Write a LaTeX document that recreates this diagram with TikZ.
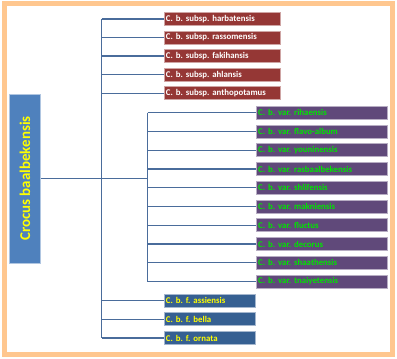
\documentclass[tikz,border=0pt]{standalone}
\usepackage{fontspec}
\setmainfont{Carlito}
\usetikzlibrary{positioning}

\definecolor{frameorange}{RGB}{255,199,143}
\definecolor{rootblue}{RGB}{79,129,189}
\definecolor{subred}{RGB}{149,55,53}
\definecolor{varpurple}{RGB}{96,73,122}
\definecolor{formblue}{RGB}{54,96,146}
\definecolor{linkblue}{RGB}{74,108,155}
\definecolor{vargreen}{RGB}{0,230,0}
\definecolor{formyellow}{RGB}{255,255,0}

\tikzset{
  taxon/.style={rectangle, anchor=west, minimum height=13pt, inner xsep=2pt, inner ysep=0pt,
    align=left, font=\bfseries\frenchspacing\fontsize{8.8}{9}\selectfont, line width=0.8pt},
  subsp/.style={taxon, fill=subred, draw=subred!45!white, text=white, text width=112.5pt},
  variety/.style={taxon, fill=varpurple, draw=varpurple!45!white, text=vargreen, text width=127pt},
  forma/.style={taxon, fill=formblue, draw=formblue!45!white, text=formyellow, text width=87.5pt},
  link/.style={draw=linkblue, line width=1.3pt}
}

\begin{document}
\begin{tikzpicture}[x=1pt,y=-1pt]
        \useasboundingbox (0,0) rectangle (397,359);
        \draw[frameorange, line width=5.3pt] (4.2,3.2) rectangle (392.2,354.3);
        % species
        \node[fill=rootblue, draw=rootblue!45!white, line width=0.8pt, minimum width=31pt, minimum height=169pt,
              inner sep=0pt] (root) at (25,178.5) {};
        \node[rotate=90, text=formyellow, font=\bfseries\fontsize{14.9}{15}\selectfont] (rootlabel) at (root.center) {Crocus baalbekensis};
        % subspecies
        \node[subsp] (s1) at (163.5,19) {C. b. subsp. harbatensis};
        \node[subsp] (s2) at (163.5,37.5) {C. b. subsp. rassomensis};
        \node[subsp] (s3) at (163.5,56) {C. b. subsp. fakihansis};
        \node[subsp] (s4) at (163.5,74.7) {C. b. subsp. ahlansis};
        \node[subsp] (s5) at (163.5,93.3) {C. b. subsp. anthopotamus};
        % varieties
        \node[variety] (v1) at (255.8,112.7) {C. b. var. rihaensis};
        \node[variety] (v2) at (255.8,131.5) {C. b. var. flavo-album};
        \node[variety] (v3) at (255.8,150.2) {C. b. var. youninensis};
        \node[variety] (v4) at (255.8,169) {C. b. var. rasbaalbekensis};
        \node[variety] (v5) at (255.8,187.7) {C. b. var. shlifensis};
        \node[variety] (v6) at (255.8,206.5) {C. b. var. makniensis};
        \node[variety] (v7) at (255.8,225.2) {C. b. var. fluctus};
        \node[variety] (v8) at (255.8,244) {C. b. var. decorus};
        \node[variety] (v9) at (255.8,262.7) {C. b. var. shaathensis};
        \node[variety] (v10) at (255.8,281.5) {C. b. var. tnaiyetensis};
        % forms
        \node[forma] (f1) at (163.5,300.5) {C. b. f. assiensis};
        \node[forma] (f2) at (163.5,319.3) {C. b. f. bella};
        \node[forma] (f3) at (163.5,338) {C. b. f. ornata};
        % trunks
        \coordinate (trunk) at (101.7,178.5);
        \coordinate (vartrunk) at (147.7,178.5);
        \draw[link] (root.east) -- (vartrunk);
        \draw[link] (trunk |- s1) -- (trunk |- f3);
        \draw[link] (vartrunk |- v1) -- (vartrunk |- v10);
        \foreach \n in {s1,s2,s3,s4,s5,f1,f2,f3}
          \draw[link] (trunk |- \n.west) -- (\n.west);
        \foreach \n in {v1,v2,v3,v4,v5,v6,v7,v8,v9,v10}
          \draw[link] (vartrunk |- \n.west) -- (\n.west);
    \end{tikzpicture}
\end{document}
